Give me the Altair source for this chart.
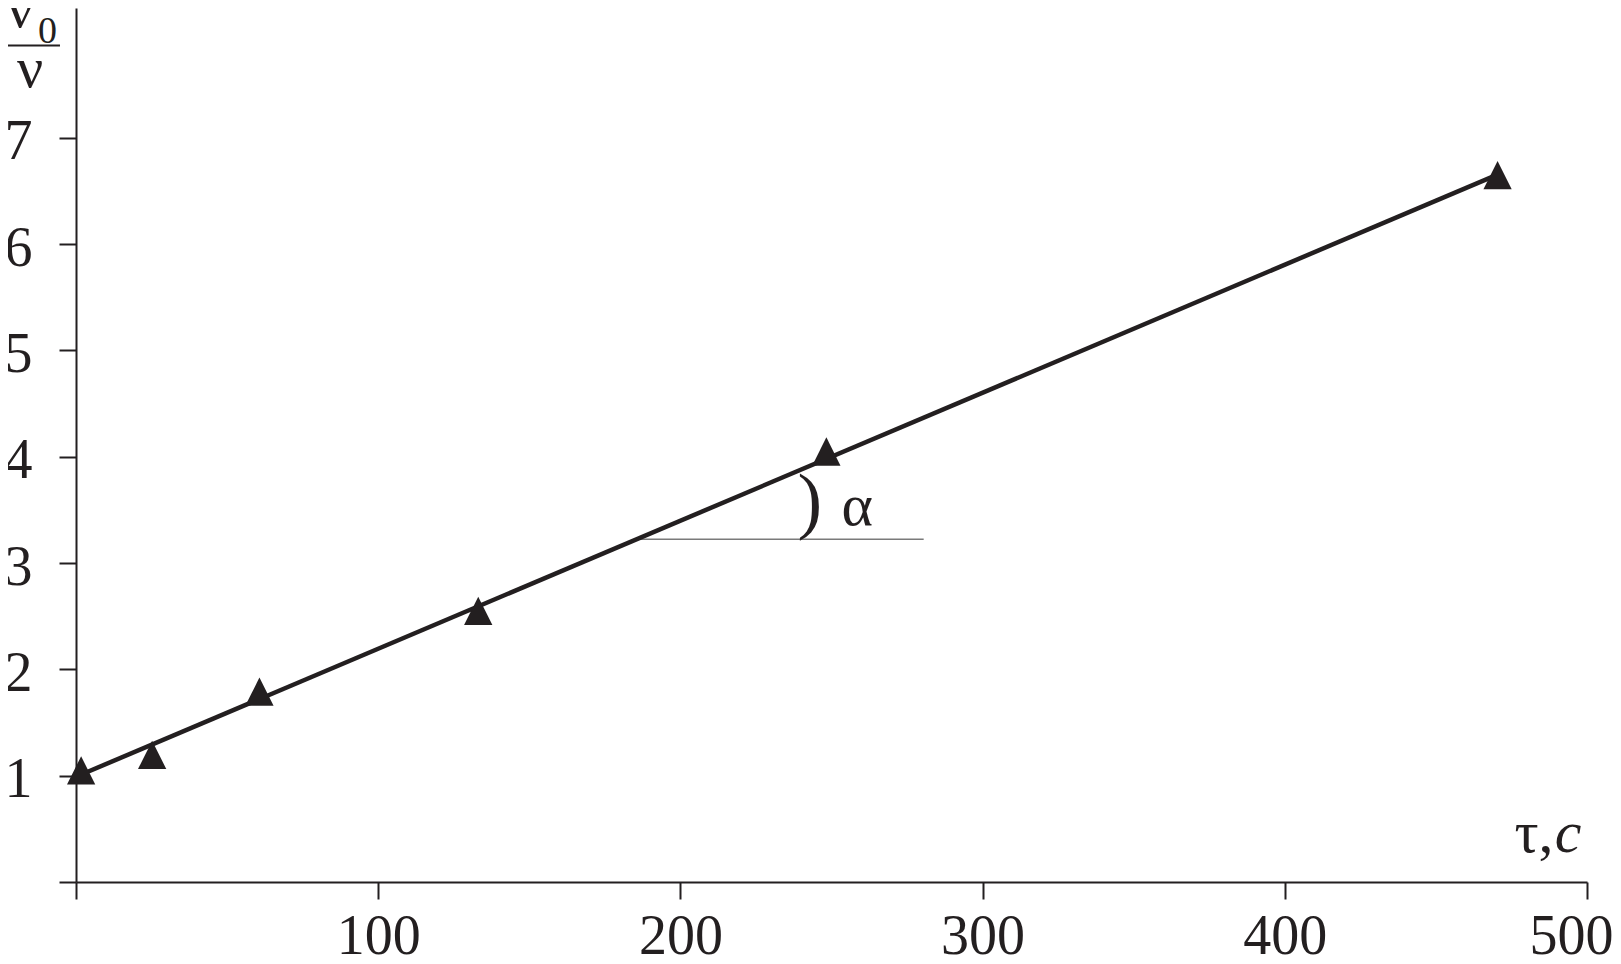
import altair as alt
import pandas as pd

# measured points
tau = [1.7, 25.2, 60.7, 133.1, 248.3, 470.4]
ratio = [1.05, 1.195, 1.79, 2.55, 4.05, 6.65]

# fitted straight line
fit_tau = [0, 470]
fit_ratio = [0.99, 6.65]

# horizontal reference line for the angle
ref_tau = [185.5, 280.5]
ref_ratio = [3.224, 3.224]

x_ticks = [0, 100, 200, 300, 400, 500]
y_ticks = [0, 1, 2, 3, 4, 5, 6, 7]

# annotations (data coordinates)
arc_txt = [")"]
arc_x = [242.8]
arc_y = [3.36]

alpha_txt = ["α"]
alpha_x = [258.5]
alpha_y = [3.358]

tau_txt = ["τ,"]
tau_x = [476.0]
tau_y = [0.282]

c_txt = ["c"]
c_x = [489.3]
c_y = [0.282]

num_txt = ["ν", "ν"]
num_x = [-18.5, -15.2]
num_y = [8.04, 7.48]

sub_txt = ["0"]
sub_x = [-12.6]
sub_y = [7.89]

bar_x = [-23.8]
bar_x2 = [-5.3]
bar_y = [7.87]

INK = "#231f20"
SERIF = "Liberation Serif"

xs = alt.Scale(domain=[0, 500], nice=False)
ys = alt.Scale(domain=[0, 8.222], nice=False)

x_axis = alt.Axis(values=x_ticks, format="d",
                  labelExpr="datum.value == 0 ? '' : datum.label",
                  title=None, labelPadding=10, labelFlush=True, labelFlushOffset=26)
y_axis = alt.Axis(values=y_ticks, format="d",
                  labelExpr="datum.value == 0 ? '' : datum.label",
                  title=None, labelPadding=27, labelOffset=4)

pts = pd.DataFrame({"tau": tau, "ratio": ratio})
fit = pd.DataFrame({"tau": fit_tau, "ratio": fit_ratio})
ref = pd.DataFrame({"tau": ref_tau, "ratio": ref_ratio})

line = alt.Chart(fit).mark_line(color=INK, strokeWidth=4.5).encode(
    x=alt.X("tau:Q", scale=xs, axis=x_axis),
    y=alt.Y("ratio:Q", scale=ys, axis=y_axis),
)

refline = alt.Chart(ref).mark_line(color="#7a7a7a", strokeWidth=1.5).encode(
    x=alt.X("tau:Q", scale=xs), y=alt.Y("ratio:Q", scale=ys)
)

points = alt.Chart(pts).mark_point(
    shape="M0,-1L1,1L-1,1Z", filled=True, color=INK, opacity=1, size=800
).encode(x=alt.X("tau:Q", scale=xs), y=alt.Y("ratio:Q", scale=ys))


def text_layer(t, x, y, **kw):
    df = pd.DataFrame({"t": t, "x": x, "y": y})
    return alt.Chart(df).mark_text(font=SERIF, color=INK, baseline="alphabetic", **kw).encode(
        x=alt.X("x:Q", scale=xs), y=alt.Y("y:Q", scale=ys), text="t:N"
    )


arc = text_layer(arc_txt, arc_x, arc_y, fontSize=74, align="center")
alpha = text_layer(alpha_txt, alpha_x, alpha_y, fontSize=60, align="center")
tau_l = text_layer(tau_txt, tau_x, tau_y, fontSize=60, align="left")
c_l = text_layer(c_txt, c_x, c_y, fontSize=60, align="left", fontStyle="italic")
num = text_layer(num_txt, num_x, num_y, fontSize=58, align="center")
sub = text_layer(sub_txt, sub_x, sub_y, fontSize=38, align="left")

bar = alt.Chart(pd.DataFrame({"x": bar_x, "x2": bar_x2, "y": bar_y})).mark_rule(
    color=INK, strokeWidth=2
).encode(x=alt.X("x:Q", scale=xs), x2="x2:Q", y=alt.Y("y:Q", scale=ys))

chart = alt.layer(refline, line, points, arc, alpha, tau_l, c_l, num, sub, bar).properties(
    width=1511, height=874,
    autosize=alt.AutoSizeParams(type="none"),
    padding={"left": 68, "top": 0, "right": 26, "bottom": 74},
).configure_view(stroke=None).configure_axis(
    grid=False, domainColor=INK, domainWidth=2, tickColor=INK, tickWidth=2,
    tickSize=17, labelFont=SERIF, labelFontSize=56, labelColor=INK,
)

chart.save("out.html", embed_options={"renderer": "svg", "actions": False})
